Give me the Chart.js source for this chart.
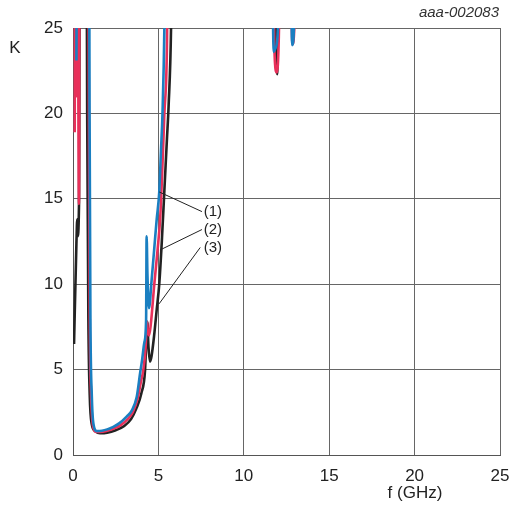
<!DOCTYPE html>
<html>
<head>
<meta charset="utf-8">
<script src="https://cdn.jsdelivr.net/npm/chart.js@4"></script>
<style>
  html, body { margin: 0; padding: 0; background: #fff; }
  #wrap { width: 518px; height: 506px; }
</style>
</head>
<body>
<div id="wrap"><canvas id="c" width="518" height="506"></canvas></div>
<script>
// f (GHz) and K for each curve; values above 25 leave the plot
var blueF = [0.2, 0.25, 0.93, 0.97, 1.02, 1.1, 1.2, 1.4, 1.7, 2.0, 2.36, 2.7, 3.14, 3.44, 3.73, 3.93, 4.05, 4.18, 4.28, 4.31, 4.36, 4.45, 4.6, 4.75, 4.9, 5.05, 5.15, 5.24, 5.35, 5.45, 11.6, 11.75, 11.85, 12.0, 12.1, 12.7, 12.83, 12.95, 13.1];
var blueK = [23.1, 35, 35, 20, 8, 3.5, 1.8, 1.4, 1.42, 1.5, 1.65, 1.85, 2.25, 2.6, 3.4, 4.8, 5.6, 6.6, 7.9, 12.8, 10.5, 8.6, 10.2, 12.0, 13.8, 15.4, 17.8, 20, 25, 35, 35, 23.6, 23.8, 25, 35, 35, 24.0, 25.5, 35];

var redF = [0.1, 0.13, 0.2, 0.27, 0.35, 0.4, 0.88, 0.93, 0.98, 1.06, 1.17, 1.35, 1.6, 2.0, 2.4, 2.8, 3.2, 3.5, 3.78, 3.98, 4.12, 4.25, 4.33, 4.38, 4.45, 4.55, 4.76, 4.95, 5.1, 5.2, 5.35, 5.5, 5.6, 11.65, 11.8, 11.93, 12.05, 12.2, 12.72, 12.85, 12.97, 13.1];
var redK = [18.9, 30, 21, 30, 14.7, 40, 35, 20, 8, 3.5, 1.7, 1.35, 1.35, 1.42, 1.55, 1.75, 2.1, 2.5, 3.3, 4.3, 5.0, 6.3, 7.8, 7.3, 7.0, 7.6, 10, 12, 13.8, 16, 20, 24, 35, 35, 23.5, 22.4, 24.5, 35, 30, 24.05, 25.5, 35];

var blackF = [0.06, 0.2, 0.25, 0.27, 0.35, 0.42, 0.78, 0.83, 0.9, 0.98, 1.1, 1.3, 1.58, 2.0, 2.5, 3.0, 3.4, 3.7, 4.0, 4.22, 4.3, 4.35, 4.42, 4.51, 4.6, 4.75, 4.9, 5.05, 5.2, 5.35, 5.5, 5.6, 5.74, 5.85, 11.7, 11.88, 11.95, 12.0, 12.1];
var blackK = [6.5, 12.4, 13.8, 12.8, 14.6, 40, 35, 20, 8, 3.5, 1.8, 1.4, 1.27, 1.3, 1.45, 1.7, 2.1, 2.7, 3.6, 5.0, 7.0, 7.8, 6.3, 5.47, 5.8, 7.0, 8.5, 10, 12.5, 15.5, 18.5, 20.5, 25, 35, 35, 23.8, 22.3, 25, 35];

var xTicks = [0, 5, 10, 15, 20, 25];
var yTicks = [0, 5, 10, 15, 20, 25];

// curve labels: point on curve -> end of leader, in data units
var curveLabels = ['(1)', '(2)', '(3)'];
var leaderFrom = [[5.05, 15.4], [5.09, 12.0], [5.04, 8.85]];
var leaderTo = [[7.55, 14.25], [7.55, 13.2], [7.45, 12.15]];
var labelX = 7.65;

function pts(f, k) {
    return f.map(function (v, i) { return { x: v, y: k[i] }; });
}

var textFont = '"Liberation Sans", Arial, sans-serif';

var extras = {
    id: 'extras',
    afterDatasetsDraw: function (chart) {
        var ctx = chart.ctx, xs = chart.scales.x, ys = chart.scales.y, a = chart.chartArea;
        ctx.save();
        ctx.strokeStyle = '#222';
        ctx.lineWidth = 1;
        ctx.fillStyle = '#222';
        ctx.font = '15px ' + textFont;
        ctx.textBaseline = 'middle';
        ctx.textAlign = 'left';
        for (var i = 0; i < curveLabels.length; i++) {
            ctx.beginPath();
            ctx.moveTo(xs.getPixelForValue(leaderFrom[i][0]), ys.getPixelForValue(leaderFrom[i][1]));
            ctx.lineTo(xs.getPixelForValue(leaderTo[i][0]), ys.getPixelForValue(leaderTo[i][1]));
            ctx.stroke();
            ctx.fillText(curveLabels[i], xs.getPixelForValue(labelX), ys.getPixelForValue(leaderTo[i][1]));
        }
        // axis names and figure code
        ctx.font = '17px ' + textFont;
        ctx.textAlign = 'center';
        ctx.fillText('K', 15, a.top + 20);
        ctx.fillText('f (GHz)', 415, 493);
        ctx.font = 'italic 15px ' + textFont;
        ctx.fillStyle = '#333';
        ctx.textAlign = 'right';
        ctx.fillText('aaa-002083', 499, 13);
        ctx.restore();
    }
};

var line = { pointRadius: 0, borderWidth: 2.6, fill: false, showLine: true, clip: 0, cubicInterpolationMode: 'monotone' };

new Chart(document.getElementById('c').getContext('2d'), {
    type: 'scatter',
    data: {
        datasets: [
            Object.assign({ label: '(1)', data: pts(blueF, blueK), borderColor: '#1a7fc1' }, line),
            Object.assign({ label: '(2)', data: pts(redF, redK), borderColor: '#e8305a' }, line),
            Object.assign({ label: '(3)', data: pts(blackF, blackK), borderColor: '#222222' }, line)
        ]
    },
    options: {
        responsive: false,
        animation: false,
        layout: { padding: { top: 28, right: 18, left: 0, bottom: 0 } },
        plugins: { legend: { display: false }, tooltip: { enabled: false } },
        scales: {
            x: {
                type: 'linear', min: 0, max: 25,
                afterFit: function (s) { s.height = 51; s.paddingRight = 0; s.paddingLeft = 0; },
                afterBuildTicks: function (s) { s.ticks = xTicks.map(function (v) { return { value: v }; }); },
                grid: { color: '#666', lineWidth: 1, drawTicks: false },
                border: { color: '#555', width: 1 },
                ticks: { color: '#222', padding: 11, font: { size: 17, family: textFont }, maxRotation: 0 }
            },
            y: {
                type: 'linear', min: 0, max: 25,
                afterFit: function (s) { s.width = 73; },
                afterBuildTicks: function (s) { s.ticks = yTicks.map(function (v) { return { value: v }; }); },
                grid: { color: '#666', lineWidth: 1, drawTicks: false },
                border: { color: '#555', width: 1 },
                ticks: { color: '#222', padding: 10, font: { size: 17, family: textFont } }
            }
        }
    },
    plugins: [extras]
});
</script>
</body>
</html>
